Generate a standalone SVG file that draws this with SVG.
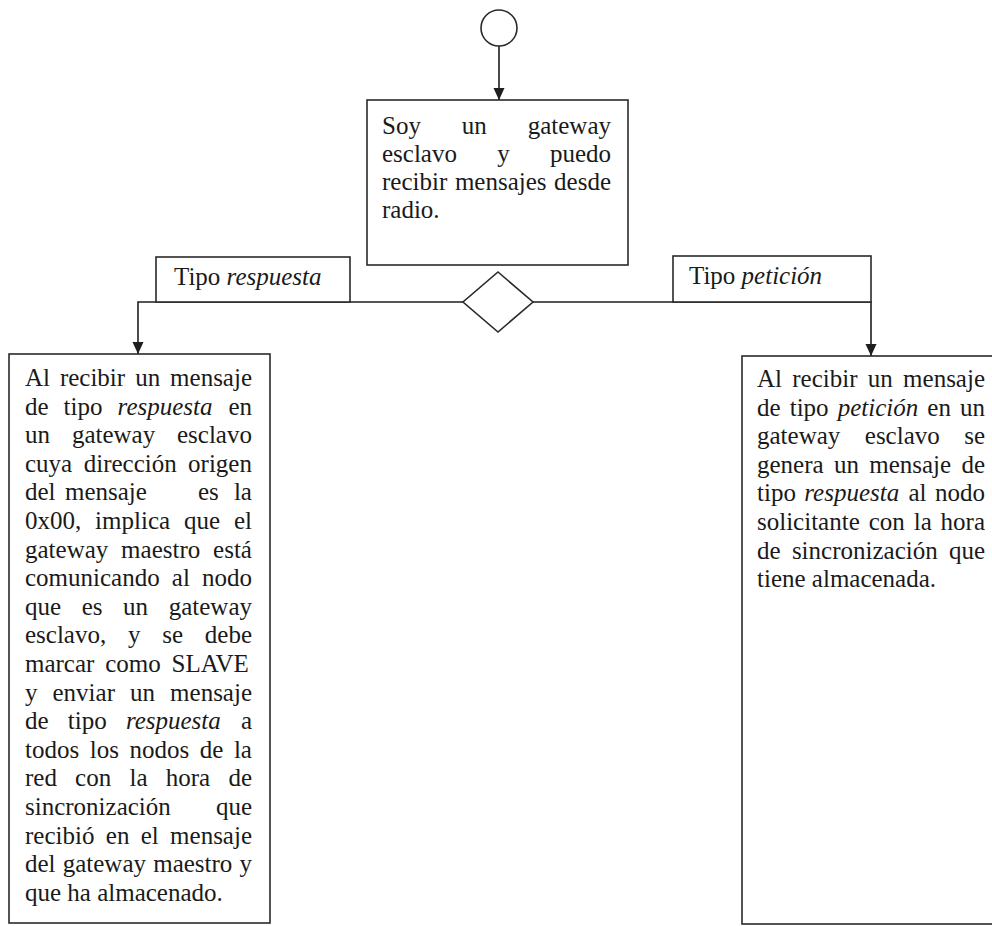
<svg xmlns="http://www.w3.org/2000/svg" width="992" height="926" viewBox="0 0 992 926">
  <style>
    .box { fill: #ffffff; stroke: #2a2a2a; stroke-width: 1.6; }
    .wire { fill: none; stroke: #1e1e1e; stroke-width: 1.6; }
    text { font-family: "Liberation Serif", "Times New Roman", serif; font-size: 25px; fill: #1a1a1a; }
    .it { font-style: italic; }
  </style>
  <defs>
    <marker id="arrow" markerUnits="userSpaceOnUse" markerWidth="12" markerHeight="12" viewBox="0 0 12 12" refX="12" refY="6" orient="auto">
      <path d="M0,0.5 L12,6 L0,11.5 z" fill="#1e1e1e"/>
    </marker>
  </defs>

  <rect x="0" y="0" width="992" height="926" fill="#ffffff"/>

  <!-- connectors -->
  <g id="connectors">
    <line class="wire" x1="499" y1="46" x2="499" y2="100" marker-end="url(#arrow)"/>
    <polyline class="wire" points="463,302 138,302 138,354" marker-end="url(#arrow)"/>
    <polyline class="wire" points="533,302 871,302 871,356" marker-end="url(#arrow)"/>
  </g>

  <!-- start -->
  <g id="start">
    <circle class="box" cx="499" cy="28" r="18"/>
  </g>

  <!-- receive node -->
  <g id="receive">
    <rect class="box" x="367" y="100" width="261" height="165"/>
    <text y="134"><tspan x="382">Soy</tspan><tspan x="461.8">un</tspan><tspan x="527.7">gateway</tspan></text>
    <text y="162"><tspan x="382">esclavo</tspan><tspan x="497.2">y</tspan><tspan x="549.9">puedo</tspan></text>
    <text y="190"><tspan x="382">recibir</tspan><tspan x="454.9">mensajes</tspan><tspan x="554.1">desde</tspan></text>
    <text y="218"><tspan x="382">radio.</tspan></text>
  </g>

  <!-- decision -->
  <g id="decision">
    <polygon class="box" points="498,272 533,302 498,332 463,302"/>
  </g>

  <!-- branch labels -->
  <g id="label-respuesta">
    <rect class="box" x="156" y="257" width="194" height="45"/>
    <text x="174" y="285">Tipo <tspan class="it">respuesta</tspan></text>
  </g>
  <g id="label-peticion">
    <rect class="box" x="673" y="256" width="198" height="46"/>
    <text x="689" y="284">Tipo <tspan class="it">petición</tspan></text>
  </g>

  <!-- response branch -->
  <g id="respuesta">
    <rect class="box" x="9" y="354" width="261" height="569"/>
    <text y="386"><tspan x="25">Al</tspan><tspan x="59.9">recibir</tspan><tspan x="135.2">un</tspan><tspan x="170.1">mensaje</tspan></text>
    <text y="414.6"><tspan x="25">de</tspan><tspan x="63.6">tipo</tspan><tspan x="117.6" class="it">respuesta</tspan><tspan x="228.4">en</tspan></text>
    <text y="443.2"><tspan x="25">un</tspan><tspan x="71.9">gateway</tspan><tspan x="177">esclavo</tspan></text>
    <text y="471.8"><tspan x="25">cuya</tspan><tspan x="83.7">dirección</tspan><tspan x="188.1">origen</tspan></text>
    <text y="500.4"><tspan x="25">del</tspan><tspan x="65">mensaje</tspan><tspan x="198">es</tspan><tspan x="233.9">la</tspan></text>
    <text y="529"><tspan x="25">0x00,</tspan><tspan x="95.1">implica</tspan><tspan x="184">que</tspan><tspan x="234">el</tspan></text>
    <text y="557.6"><tspan x="25">gateway</tspan><tspan x="121.1">maestro</tspan><tspan x="213.1">está</tspan></text>
    <text y="586.2"><tspan x="25">comunicando</tspan><tspan x="171.8">al</tspan><tspan x="202">nodo</tspan></text>
    <text y="614.8"><tspan x="25">que</tspan><tspan x="81.7">es</tspan><tspan x="123.1">un</tspan><tspan x="168.7">gateway</tspan></text>
    <text y="643.4"><tspan x="25">esclavo,</tspan><tspan x="128">y</tspan><tspan x="162.2">se</tspan><tspan x="204.8">debe</tspan></text>
    <text y="672"><tspan x="25">marcar</tspan><tspan x="105.2">como</tspan><tspan x="171.5">SLAVE</tspan></text>
    <text y="700.6"><tspan x="25">y</tspan><tspan x="52.5">enviar</tspan><tspan x="130.1">un</tspan><tspan x="170.1">mensaje</tspan></text>
    <text y="729.2"><tspan x="25">de</tspan><tspan x="67.8">tipo</tspan><tspan x="125.9" class="it">respuesta</tspan><tspan x="240.9">a</tspan></text>
    <text y="757.8"><tspan x="25">todos</tspan><tspan x="89.8">los</tspan><tspan x="129.5">nodos</tspan><tspan x="199.8">de</tspan><tspan x="233.9">la</tspan></text>
    <text y="786.4"><tspan x="25">red</tspan><tspan x="75.1">con</tspan><tspan x="129.5">la</tspan><tspan x="165.8">hora</tspan><tspan x="228.4">de</tspan></text>
    <text y="815"><tspan x="25">sincronización</tspan><tspan x="215.9">que</tspan></text>
    <text y="843.6"><tspan x="25">recibió</tspan><tspan x="105.8">en</tspan><tspan x="140.7">el</tspan><tspan x="170.1">mensaje</tspan></text>
    <text y="872.2"><tspan x="25">del</tspan><tspan x="62.7">gateway</tspan><tspan x="153.2">maestro</tspan><tspan x="239.5">y</tspan></text>
    <text y="900.8"><tspan x="25">que ha almacenado.</tspan></text>
  </g>

  <!-- request branch -->
  <g id="peticion">
    <rect class="box" x="742" y="356" width="260" height="568"/>
    <text y="387"><tspan x="757">Al</tspan><tspan x="792.3">recibir</tspan><tspan x="867.8">un</tspan><tspan x="903.1">mensaje</tspan></text>
    <text y="415.6"><tspan x="757">de</tspan><tspan x="789.7">tipo</tspan><tspan x="837.7" class="it">petición</tspan><tspan x="927.3">en</tspan><tspan x="960">un</tspan></text>
    <text y="444.2"><tspan x="757">gateway</tspan><tspan x="864.8">esclavo</tspan><tspan x="964.2">se</tspan></text>
    <text y="472.8"><tspan x="757">genera</tspan><tspan x="833.9">un</tspan><tspan x="869.2">mensaje</tspan><tspan x="961.4">de</tspan></text>
    <text y="501.4"><tspan x="757">tipo</tspan><tspan x="804.3" class="it">respuesta</tspan><tspan x="908.5">al</tspan><tspan x="935">nodo</tspan></text>
    <text y="530"><tspan x="757">solicitante</tspan><tspan x="868.7">con</tspan><tspan x="913.7">la</tspan><tspan x="940.6">hora</tspan></text>
    <text y="558.6"><tspan x="757">de</tspan><tspan x="791.9">sincronización</tspan><tspan x="948.9">que</tspan></text>
    <text y="587.2"><tspan x="757">tiene almacenada.</tspan></text>
  </g>
</svg>
